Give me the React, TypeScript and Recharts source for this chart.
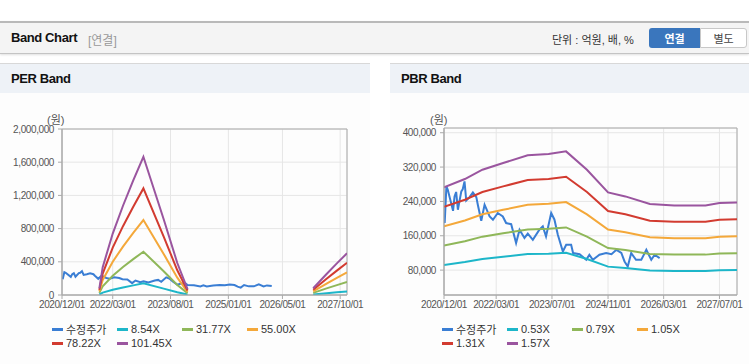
import React from 'react';
import { LineChart, Line, XAxis, YAxis, CartesianGrid, ReferenceArea } from 'recharts';

const FONT = '"Liberation Sans", Arial, "Noto Sans CJK KR", sans-serif';

// 수정주가 (shared by both charts)
const priceDates = ['2020-12-07','2020-12-22','2021-01-03','2021-02-18','2021-03-03','2021-03-17','2021-04-01','2021-05-01','2021-05-13','2021-05-29','2021-06-13','2021-07-12','2021-08-10','2021-09-09','2021-09-22','2021-10-22','2021-11-20','2022-01-03','2022-02-01','2022-03-15','2022-04-28','2022-05-27','2022-07-10','2022-08-22','2022-09-21','2022-11-03','2022-12-02','2023-01-15','2023-03-13','2023-04-12','2023-05-10','2023-06-24','2023-07-22','2023-08-21','2023-10-04','2023-11-02','2023-12-15','2024-01-01','2024-02-27','2024-04-25','2024-05-22','2024-06-21','2024-08-18','2024-10-15','2024-12-01','2025-01-13','2025-02-25','2025-03-25','2025-04-22','2025-05-22','2025-07-03','2025-08-18','2025-10-01','2025-11-13','2025-12-13','2026-01-25'];
const priceValues = [189600, 275000, 267000, 218000, 251600, 262000, 220600, 263300, 268000, 286600, 242000, 250000, 261000, 250000, 232300, 195000, 232300, 205000, 197300, 213000, 205000, 189600, 187000, 143000, 174000, 155000, 165000, 150600, 174000, 181700, 158400, 213000, 198000, 162300, 123400, 139000, 139000, 119600, 117000, 104000, 115700, 104000, 115700, 119600, 117000, 127300, 120000, 100100, 88400, 119600, 104000, 104000, 127300, 104000, 115700, 108000];

// PER band (null = gap)
const perBandDates = ['2021-11-01','2021-12-01','2022-03-01','2022-06-01','2022-09-01','2022-12-01','2023-06-01','2023-10-01','2024-01-01','2025-07-01','2027-02-01','2027-06-01','2027-09-01','2027-12-01'];
const per854 = [6747, 28182, 62342, 90524, 116144, 140227, 76860, 32452, 5978, null, 6832, 21350, 32025, 42273];
const per3177 = [25098, 104841, 231921, 336762, 432072, 521663, 285930, 120726, 22239, null, 25416, 79425, 119138, 157262];
const per5500 = [43450, 181500, 401500, 583000, 748000, 903100, 495000, 209000, 38500, null, 44000, 137500, 206250, 272250];
const per7822 = [61794, 258126, 571006, 829132, 1063792, 1284372, 703980, 297236, 54754, null, 62576, 195550, 293325, 387189];
const per10145 = [80146, 334785, 740585, 1075370, 1379720, 1665809, 913050, 385510, 71015, null, 81160, 253625, 380438, 502178];

// PBR band
const pbrBandDates = ['2020-12-01','2021-06-01','2021-11-01','2022-05-01','2022-12-01','2023-06-01','2023-11-01','2024-05-01','2024-11-01','2025-04-01','2025-11-01','2026-06-01','2027-03-01','2027-07-01','2027-12-01'];
const pbr053 = [92008, 98633, 105947, 111247, 117236, 118296, 120363, 105947, 88086, 84959, 78970, 77857, 77857, 79712, 80189];
const pbr079 = [137144, 147019, 157921, 165821, 174748, 176328, 179409, 157921, 131298, 126637, 117710, 116051, 116051, 118816, 119527];
const pbr105 = [182280, 195405, 209895, 220395, 232260, 234360, 238455, 209895, 174510, 168315, 156450, 154245, 154245, 157920, 158865];
const pbr131 = [227416, 243791, 261869, 274969, 289772, 292392, 297501, 261869, 217722, 209993, 195190, 192439, 192439, 197024, 198203];
const pbr157 = [272552, 292177, 313843, 329543, 347284, 350424, 356547, 313843, 260934, 251671, 233930, 230633, 230633, 236128, 237541];

const perLabels = ['수정주가', '8.54X', '31.77X', '55.00X', '78.22X', '101.45X'];
const pbrLabels = ['수정주가', '0.53X', '0.79X', '1.05X', '1.31X', '1.57X'];
const colors = ['#3a7ed4', '#1db6c9', '#8fb759', '#f4a83a', '#d23b30', '#9a559f'];

const perXTicks = ['2020-12-01', '2022-03-01', '2023-08-01', '2025-01-01', '2026-05-01', '2027-10-01'];
const pbrXTicks = ['2020-12-01', '2022-03-01', '2023-07-01', '2024-11-01', '2026-03-01', '2027-07-01'];
const perYTicks = [0, 400000, 800000, 1200000, 1600000, 2000000];
const pbrYTicks = [80000, 160000, 240000, 320000, 400000];
const xRange = ['2020-12-01', '2027-12-01'];

const toT = (s: string) => {
  const [y, m, d] = s.split('-').map(Number);
  return Date.UTC(y, m - 1, d);
};
const fmtDate = (t: number) => {
  const d = new Date(t);
  return `${d.getUTCFullYear()}/${String(d.getUTCMonth() + 1).padStart(2, '0')}/${String(d.getUTCDate()).padStart(2, '0')}`;
};
const series = (dates: string[], values: (number | null)[]) => dates.map((d, i) => ({ t: toT(d), v: values[i] }));

const tickStyle = { fontSize: 10, fill: '#555', fontFamily: FONT, letterSpacing: -0.4 };

type BandProps = {
  left: number;
  width: number;
  marginRight: number;
  marginTop: number;
  yDomain: [number, number];
  yTicks: number[];
  xTicks: string[];
  bands: (number | null)[][];
  bandDates: string[];
  labels: string[];
};

const BandChart: React.FC<BandProps> = ({ left, width, marginRight, marginTop, yDomain, yTicks, xTicks, bands, bandDates, labels }) => {
  const xd: [number, number] = [toT(xRange[0]), toT(xRange[1])];
  return (
    <div style={{ position: 'absolute', left, top: 100 }}>
      <LineChart width={width} height={220} margin={{ top: marginTop, right: marginRight, bottom: 5, left: 0 }}>
        <CartesianGrid stroke="#e6e6e6" />
        <XAxis
          dataKey="t"
          type="number"
          domain={xd}
          allowDataOverflow
          ticks={xTicks.map(toT)}
          interval={0}
          tickFormatter={fmtDate}
          height={20}
          tickSize={4}
          tickMargin={2}
          axisLine={{ stroke: '#aaa' }}
          tickLine={{ stroke: '#aaa' }}
          tick={tickStyle}
        />
        <YAxis
          type="number"
          domain={yDomain}
          allowDataOverflow
          ticks={yTicks}
          interval={0}
          width={62}
          tickSize={4}
          tickMargin={4}
          tickFormatter={(v: number) => v.toLocaleString('en-US')}
          axisLine={{ stroke: '#aaa' }}
          tickLine={{ stroke: '#aaa' }}
          tick={tickStyle}
        />
        <ReferenceArea x1={xd[0]} x2={xd[1]} y1={yDomain[0]} y2={yDomain[1]} fill="none" stroke="#aaa" strokeWidth={1} fillOpacity={0} ifOverflow="visible" />
        <Line data={series(priceDates, priceValues)} dataKey="v" name={labels[0]} stroke={colors[0]} strokeWidth={2} dot={false} isAnimationActive={false} />
        {bands.map((b, i) => (
          <Line key={labels[i + 1]} data={series(bandDates, b)} dataKey="v" name={labels[i + 1]} stroke={colors[i + 1]} strokeWidth={2} dot={false} isAnimationActive={false} />
        ))}
      </LineChart>
    </div>
  );
};

const Legend: React.FC<{ left: number; labels: string[] }> = ({ left, labels }) => (
  <div style={{ position: 'absolute', left, top: 322, width: 270 }}>
    {labels.map((l, i) => (
      <div key={l} style={{ position: 'absolute', left: (i % 4) * 65, top: Math.floor(i / 4) * 14, display: 'flex', alignItems: 'center', height: 14, whiteSpace: 'nowrap' }}>
        <div style={{ width: 11, height: 3, background: colors[i], marginRight: 3 }} />
        <span style={{ fontSize: 11, color: '#333', fontFamily: FONT }}>{l}</span>
      </div>
    ))}
  </div>
);

const Panel: React.FC<{ left: number; width: number; title: string }> = ({ left, width, title }) => (
  <div style={{ position: 'absolute', left, top: 63, width, height: 300, borderTop: '1px solid #d8d8d8', borderBottom: '1px solid #d8d8d8', background: '#fdfdfd' }}>
    <div style={{ height: 29, background: '#eef2f7', display: 'flex', alignItems: 'center', paddingLeft: 11, fontSize: 13, fontWeight: 'bold', color: '#111', letterSpacing: -0.4, fontFamily: FONT }}>{title}</div>
  </div>
);

const App: React.FC = () => (
  <div style={{ position: 'absolute', left: 0, top: 0, width: 749, height: 364, overflow: 'hidden', background: '#fff', fontFamily: FONT }}>
    <div style={{ position: 'absolute', left: 0, top: 21, width: 749, height: 30, background: '#f4f4f4', borderTop: '2px solid #b9b9b9', borderBottom: '1px solid #c4c4c4', boxShadow: '0 1px 2px rgba(0,0,0,0.12)' }}>
      <span style={{ position: 'absolute', left: 11, top: 7, fontSize: 13, fontWeight: 'bold', color: '#111', letterSpacing: -0.4 }}>Band Chart</span>
      <span style={{ position: 'absolute', left: 88, top: 8, fontSize: 12, color: '#999' }}>[연결]</span>
      <span style={{ position: 'absolute', left: 552, top: 8, fontSize: 11, color: '#333' }}>단위 : 억원, 배, %</span>
      <div style={{ position: 'absolute', left: 649, top: 5, width: 51, height: 20, background: '#3a76bd', borderRadius: '3px 0 0 3px', color: '#fff', fontSize: 11, fontWeight: 'bold', display: 'flex', alignItems: 'center', justifyContent: 'center' }}>연결</div>
      <div style={{ position: 'absolute', left: 700, top: 5, width: 45, height: 18, background: '#fff', border: '1px solid #c8c8c8', borderRadius: '0 3px 3px 0', color: '#444', fontSize: 11, display: 'flex', alignItems: 'center', justifyContent: 'center' }}>별도</div>
    </div>

    <Panel left={0} width={370} title="PER Band" />
    <Panel left={390} width={359} title="PBR Band" />

    <div style={{ position: 'absolute', left: 47, top: 111, fontSize: 11, color: '#555' }}>(원)</div>
    <div style={{ position: 'absolute', left: 430, top: 111, fontSize: 11, color: '#555' }}>(원)</div>

    <BandChart left={0} width={370} marginRight={23} marginTop={29} yDomain={[0, 2000000]} yTicks={perYTicks} xTicks={perXTicks}
      bands={[per854, per3177, per5500, per7822, per10145]} bandDates={perBandDates} labels={perLabels} />
    <BandChart left={382} width={367} marginRight={12} marginTop={28} yDomain={[22000, 411000]} yTicks={pbrYTicks} xTicks={pbrXTicks}
      bands={[pbr053, pbr079, pbr105, pbr131, pbr157]} bandDates={pbrBandDates} labels={pbrLabels} />

    <Legend left={52} labels={perLabels} />
    <Legend left={442} labels={pbrLabels} />
  </div>
);

export default App;
